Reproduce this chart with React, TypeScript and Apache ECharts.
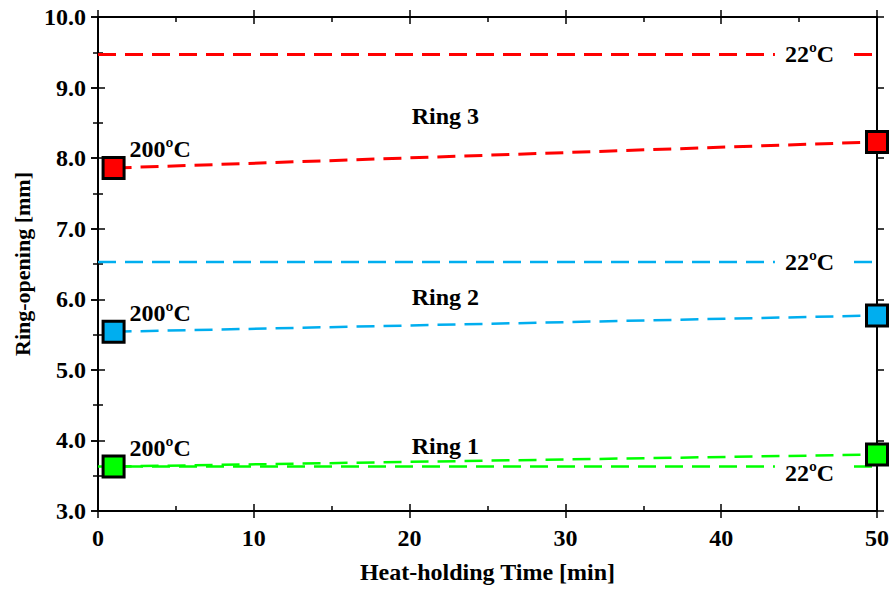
import React, { useEffect, useRef } from "react";
import * as echarts from "echarts";

const X_MIN = 0, X_MAX = 50, X_STEP = 10;
const Y_MIN = 3, Y_MAX = 10, Y_STEP = 1;

const ringNames = ["Ring 1", "Ring 2", "Ring 3"];
const ringColors = ["#00ff00", "#00aeef", "#ff0000"];
// heat-holding times for the 200ºC runs
const heatTimes = [1, 50];
// ring-opening [mm] at 200ºC for each ring (at 1 and 50 min)
const ring1Heat = [3.63, 3.8];
const ring2Heat = [5.54, 5.77];
const ring3Heat = [7.86, 8.23];
// ring-opening [mm] at 22ºC (constant reference)
const roomTemp = [3.63, 6.53, 9.47];
const roomTimes = [0, 50];

// annotation anchors in data coordinates
const ringLabelPos = [[22.3, 3.92], [22.3, 6.03], [22.3, 8.6]];
const roomLabelPos = [[45.8, 3.63], [45.8, 6.53], [45.8, 9.47]];
const roomLabelShift = [6, 0, 0];

const FONT = "Liberation Serif";

export default function App() {
  const ref = useRef<HTMLDivElement>(null);
  useEffect(() => {
    if (!ref.current) return;
    const chart = echarts.init(ref.current, null, { renderer: "svg" });
    const heat = [ring1Heat, ring2Heat, ring3Heat];
    const textStyle = {
      fontFamily: FONT,
      fontWeight: "bold" as const,
      fontSize: 24,
      color: "#000",
      textBorderWidth: 0,
    };

    const series: any[] = [];
    for (let i = 0; i < 3; i++) {
      const width = i === 2 ? 3 : 2.5;
      series.push({
        type: "line",
        data: roomTimes.map((t) => [t, roomTemp[i]]),
        symbol: "none",
        lineStyle: { color: ringColors[i], width, type: [18, 9] },
        z: 2,
      });
      series.push({
        type: "line",
        data: heatTimes.map((t, j) =>
          j === 0
            ? {
                value: [t, heat[i][j]],
                label: {
                  show: true,
                  formatter: "200ºC",
                  position: "right",
                  distance: 4,
                  offset: [0, -19],
                  ...textStyle,
                },
              }
            : { value: [t, heat[i][j]] }
        ),
        symbol: "rect",
        symbolSize: 21,
        showAllSymbol: true,
        clip: false,
        itemStyle: { color: ringColors[i], borderColor: "#000", borderWidth: 3, opacity: 1 },
        lineStyle: { color: ringColors[i], width, type: [18, 9] },
        z: 4,
      });
    }
    series.push({
      type: "scatter",
      symbolSize: 0,
      itemStyle: { opacity: 1 },
      data: roomLabelPos.map((p, i) => ({
        value: p,
        label: {
          show: true,
          position: "inside",
          formatter: "22ºC",
          backgroundColor: "#fff",
          padding: [0, 14, 0, 10],
          offset: [0, roomLabelShift[i]],
          ...textStyle,
        },
      })),
      z: 3,
    });
    series.push({
      type: "scatter",
      symbolSize: 0,
      itemStyle: { opacity: 1 },
      data: ringLabelPos.map((p, i) => ({
        value: p,
        label: { show: true, position: "inside", formatter: ringNames[i], ...textStyle },
      })),
      z: 3,
    });

    const axisLine = { show: true, onZero: false, lineStyle: { color: "#000", width: 2 } };
    const mkX = (pos: string, inside: boolean, main: boolean) => ({
      type: "value",
      position: pos,
      min: X_MIN,
      max: X_MAX,
      interval: X_STEP,
      axisLine: main ? axisLine : { show: false },
      axisTick: { show: true, inside, length: 7, lineStyle: { color: "#000", width: 1.5 } },
      minorTick: { show: inside, splitNumber: 2, length: 5, lineStyle: { color: "#000", width: 1.5 } },
      axisLabel: main && pos === "bottom" ? { show: true, margin: 15, ...textStyle } : { show: false },
      splitLine: { show: false },
      name: main && pos === "bottom" ? "Heat-holding Time [min]" : "",
      nameLocation: "middle",
      nameGap: 49,
      nameTextStyle: { fontFamily: FONT, fontWeight: "bold", fontSize: 24, color: "#000" },
    });
    const mkY = (pos: string, inside: boolean, main: boolean) => ({
      type: "value",
      position: pos,
      min: Y_MIN,
      max: Y_MAX,
      interval: Y_STEP,
      axisLine: main ? axisLine : { show: false },
      axisTick: { show: true, inside, length: 7, lineStyle: { color: "#000", width: 1.5 } },
      minorTick: { show: inside, splitNumber: 2, length: 5, lineStyle: { color: "#000", width: 1.5 } },
      axisLabel:
        main && pos === "left"
          ? { show: true, margin: 12, formatter: (v: number) => v.toFixed(1), ...textStyle }
          : { show: false },
      splitLine: { show: false },
      name: main && pos === "left" ? "Ring-opening [mm]" : "",
      nameLocation: "middle",
      nameGap: 63,
      nameTextStyle: { fontFamily: FONT, fontWeight: "bold", fontSize: 22, color: "#000" },
    });

    chart.setOption({
      animation: false,
      grid: { left: 98, right: 16, top: 17, bottom: 77, containLabel: false },
      xAxis: [mkX("bottom", false, true), mkX("bottom", true, false), mkX("top", false, true), mkX("top", true, false)],
      yAxis: [mkY("left", false, true), mkY("left", true, false), mkY("right", false, true), mkY("right", true, false)],
      series,
    });
    return () => chart.dispose();
  }, []);
  return (
    <div
      ref={ref}
      style={{ position: "fixed", left: 0, top: 0, width: 893, height: 589, background: "#fff" }}
    />
  );
}
